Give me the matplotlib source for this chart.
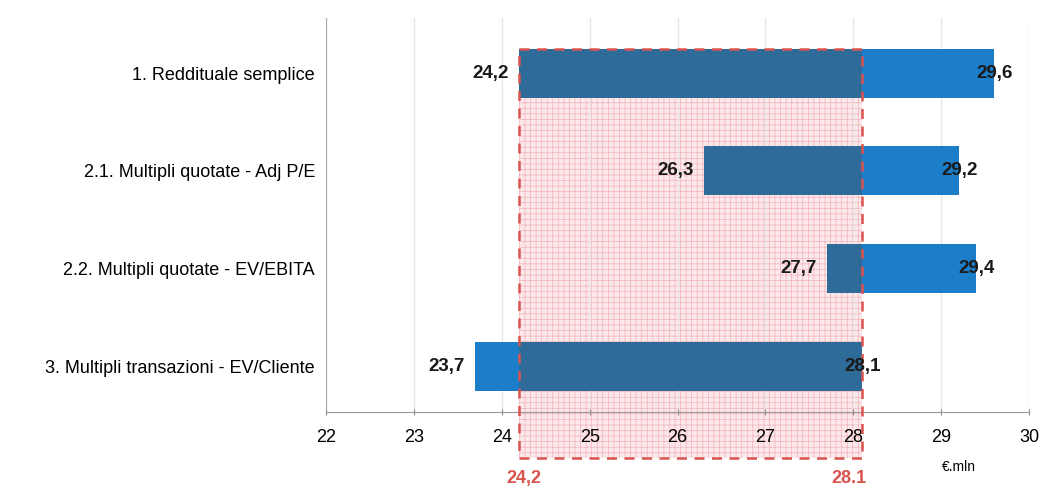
import matplotlib
matplotlib.use("Agg")
import matplotlib.pyplot as plt
from matplotlib.patches import Rectangle

plt.rcParams['font.family'] = ['Liberation Sans', 'DejaVu Sans']
plt.rcParams['hatch.linewidth'] = 0.5

categories = ["1. Reddituale semplice",
              "2.1. Multipli quotate - Adj P/E",
              "2.2. Multipli quotate - EV/EBITA",
              "3. Multipli transazioni - EV/Cliente"]
mins = [24.2, 26.3, 27.7, 23.7]
maxs = [29.6, 29.2, 29.4, 28.1]
min_labels = ["24,2", "26,3", "27,7", "23,7"]
max_labels = ["29,6", "29,2", "29,4", "28,1"]
range_lo, range_hi = 24.2, 28.1
range_labels = ["24,2", "28.1"]
xticks = [22, 23, 24, 25, 26, 27, 28, 29, 30]

light_blue = "#1C7DC8"
dark_blue = "#2F6B99"
red = "#D9534F"

fig = plt.figure(figsize=(10.4, 4.86), dpi=100)
ax = fig.add_axes([0.3135, 0.152, 0.676, 0.81])

ypos = list(range(len(categories)))
h = 0.5
ax.set_xlim(22, 30)
ax.set_ylim(3.47, -0.56)

# pink band
band_top = -h / 2
band_bottom = 3.47 + (458 - 412) / (0.81 * 486) * 4.03
rect = Rectangle((range_lo, band_top), range_hi - range_lo, band_bottom - band_top,
                 facecolor="#FCE8EA", edgecolor="#F0B4BA", hatch="+++", linewidth=0,
                 zorder=1, clip_on=False)
ax.add_patch(rect)
border = Rectangle((range_lo, band_top), range_hi - range_lo, band_bottom - band_top,
                   facecolor="none", edgecolor=red, linestyle=(0, (4, 3)), linewidth=1.8,
                   zorder=5, clip_on=False)
ax.add_patch(border)

for y, lo, hi, ll, hl in zip(ypos, mins, maxs, min_labels, max_labels):
    ax.barh(y, hi - lo, left=lo, height=h, color=light_blue, zorder=3)
    dlo, dhi = max(lo, range_lo), min(hi, range_hi)
    if dhi > dlo:
        ax.barh(y, dhi - dlo, left=dlo, height=h, color=dark_blue, zorder=4)
    ax.text(lo - 0.12, y, ll, ha="right", va="center", fontsize=13.5,
            fontweight="bold", color="#1a1a1a", zorder=6)
    ax.text(hi - 0.2, y, hl, ha="left", va="center", fontsize=13.5,
            fontweight="bold", color="#1a1a1a", zorder=6)

ax.set_yticks(ypos)
ax.set_yticklabels(categories, fontsize=13)
ax.tick_params(axis="y", length=0, pad=8)
ax.set_xticks(xticks)
ax.set_xticklabels([str(t) for t in xticks], fontsize=13)
ax.tick_params(axis="x", length=5, direction="inout", color="#888888", pad=10)
ax.grid(axis="x", color="#E6E6E6", linewidth=1)
ax.xaxis.set_zorder(2)
ax.yaxis.set_zorder(2)
for s in ["top", "right"]:
    ax.spines[s].set_visible(False)
ax.spines["left"].set_color("#AAAAAA")
ax.spines["bottom"].set_color("#999999")

ax.text(29.2, -0.14, "€.mln", transform=ax.get_xaxis_transform(), fontsize=10,
        va="center", ha="center")
ax.text(range_lo + 0.05, -0.168, range_labels[0], transform=ax.get_xaxis_transform(),
        ha="center", va="center", color=red, fontsize=13, fontweight="bold")
ax.text(range_hi - 0.15, -0.168, range_labels[1], transform=ax.get_xaxis_transform(),
        ha="center", va="center", color=red, fontsize=13, fontweight="bold")

fig.savefig("out.png", dpi=100)
